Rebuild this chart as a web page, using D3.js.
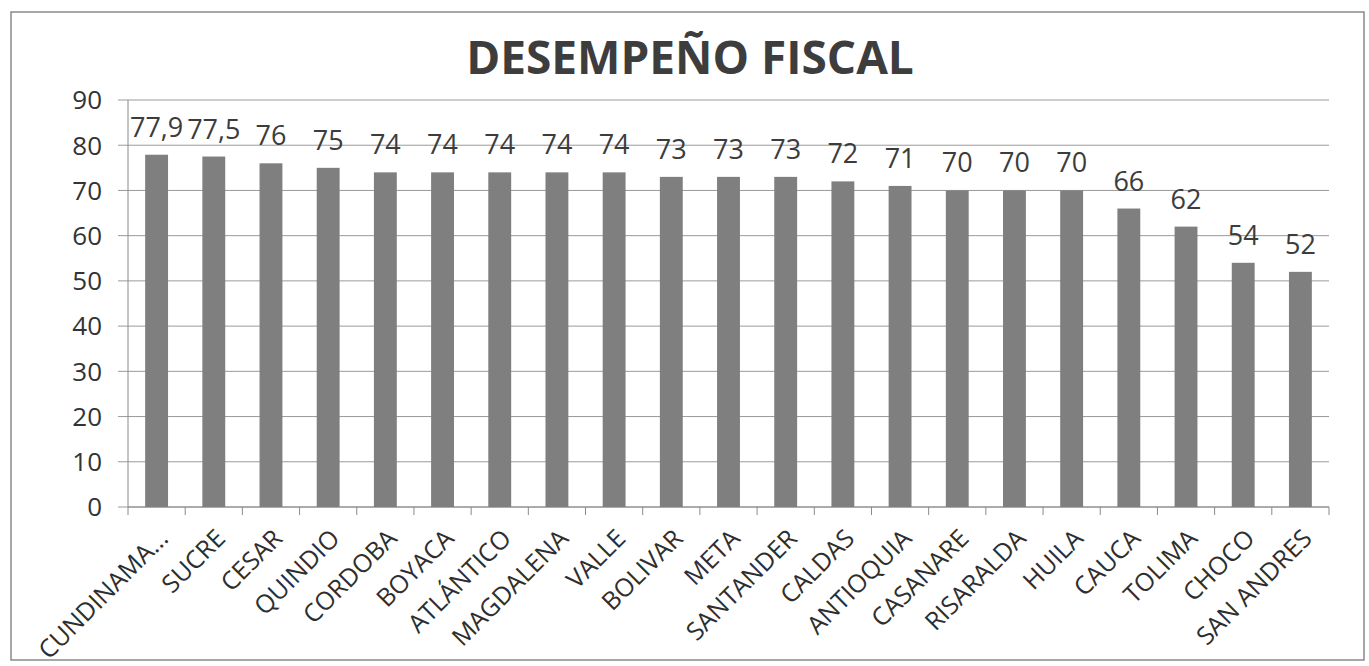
<!DOCTYPE html>
<html>
<head>
    <meta charset="utf-8">
    <title>Desempeño Fiscal</title>
    <script type="text/javascript" src="https://cdn.jsdelivr.net/npm/d3@7"></script>
</head>

<body style="margin:0; background:#fff;">

<style>

body {
    font-family: "Open Sans", sans-serif;
}

.grid line {
    stroke: #9a9a9a;
    stroke-width: 1;
}

.bar {
    fill: #7f7f7f;
}

.bar_label {
    fill: #3c3c3c;
    font-size: 27px;
}

.y_label {
    fill: #333;
    font-size: 26px;
}

.x_label {
    fill: #2e2e2e;
    font-size: 25px;
}

</style>

<script type="text/javascript">
    // departamentos, en el orden del grafico
    var departamentos = ["CUNDINAMA...", "SUCRE", "CESAR", "QUINDIO", "CORDOBA",
        "BOYACA", "ATLÁNTICO", "MAGDALENA", "VALLE", "BOLIVAR", "META",
        "SANTANDER", "CALDAS", "ANTIOQUIA", "CASANARE", "RISARALDA", "HUILA",
        "CAUCA", "TOLIMA", "CHOCO", "SAN ANDRES"];

    var desempeno = [77.9, 77.5, 76, 75, 74, 74, 74, 74, 74, 73, 73,
        73, 72, 71, 70, 70, 70, 66, 62, 54, 52];

    var yTicks = [0, 10, 20, 30, 40, 50, 60, 70, 80, 90];

    var titulo = "DESEMPEÑO FISCAL";

    var width = 1369,
        height = 666,
        plotLeft = 128,
        plotRight = 1329,
        plotTop = 100,
        plotBottom = 507;

    var x = d3.scaleBand()
            .domain(departamentos)
            .range([plotLeft, plotRight])
            .paddingInner(0.6)
            .paddingOuter(0.3),
        y = d3.scaleLinear()
            .domain([0, 90])
            .range([plotBottom, plotTop]);

    var svg = d3.select("body").append("svg")
        .attr("width", width)
        .attr("height", height);

    // marco del grafico
    svg.append("rect")
        .attr("x", 11)
        .attr("y", 12)
        .attr("width", 1353)
        .attr("height", 648)
        .attr("fill", "#fff")
        .attr("stroke", "#8a8a8a")
        .attr("stroke-width", 1.5);

    svg.append("text")
        .attr("x", 690)
        .attr("y", 74)
        .attr("text-anchor", "middle")
        .style("font-size", "46px")
        .style("font-weight", "bold")
        .style("fill", "#3d3d3d")
        .text(titulo);

    renderAxes(svg);
    renderBars(svg);

    function renderAxes(svg){
        // lineas de cuadricula + marcas del eje y
        svg.append("g")
            .attr("class", "grid")
            .selectAll("line")
            .data(yTicks)
            .enter().append("line")
            .attr("x1", plotLeft - 10)
            .attr("x2", plotRight)
            .attr("y1", function(d){ return y(d); })
            .attr("y2", function(d){ return y(d); });

        svg.append("line")
            .attr("x1", plotLeft).attr("x2", plotLeft)
            .attr("y1", plotTop).attr("y2", plotBottom)
            .attr("stroke", "#8a8a8a");

        svg.selectAll("text.y_label")
            .data(yTicks)
            .enter().append("text")
            .attr("class", "y_label")
            .attr("x", 102)
            .attr("y", function(d){ return y(d); })
            .attr("dy", "0.36em")
            .attr("text-anchor", "end")
            .text(function(d){ return d; });

        // marcas del eje x entre categorias
        var gap = (x.step() - x.bandwidth()) / 2;
        var bounds = departamentos.map(function(d){ return x(d) - gap; });
        bounds.push(plotRight);

        svg.selectAll("line.xtick")
            .data(bounds)
            .enter().append("line")
            .attr("class", "xtick")
            .attr("x1", function(d){ return d; })
            .attr("x2", function(d){ return d; })
            .attr("y1", plotBottom)
            .attr("y2", plotBottom + 8)
            .attr("stroke", "#8a8a8a");

        svg.append("line")
            .attr("x1", plotLeft).attr("x2", plotRight)
            .attr("y1", plotBottom).attr("y2", plotBottom)
            .attr("stroke", "#8a8a8a");

        svg.selectAll("text.x_label")
            .data(departamentos)
            .enter().append("text")
            .attr("class", "x_label")
            .attr("text-anchor", "end")
            .attr("transform", function(d){
                var cx = x(d) + x.bandwidth() / 2;
                return "translate(" + (cx + 13) + "," + 540 + ") rotate(-45)";
            })
            .text(function(d){ return d; });
    }

    function renderBars(svg){
        var data = departamentos.map(function(d, i){
            return {name: d, value: desempeno[i]};
        });

        svg.selectAll("rect.bar")
            .data(data)
            .enter().append("rect")
            .attr("class", "bar")
            .attr("x", function(d){ return x(d.name); })
            .attr("y", function(d){ return y(d.value); })
            .attr("width", x.bandwidth())
            .attr("height", function(d){ return plotBottom - y(d.value); });

        svg.selectAll("text.bar_label")
            .data(data)
            .enter().append("text")
            .attr("class", "bar_label")
            .attr("x", function(d){ return x(d.name) + x.bandwidth() / 2; })
            .attr("y", function(d){ return y(d.value) - 18; })
            .attr("text-anchor", "middle")
            .text(function(d){ return String(d.value).replace(".", ","); });
    }
</script>

</body>

</html>
